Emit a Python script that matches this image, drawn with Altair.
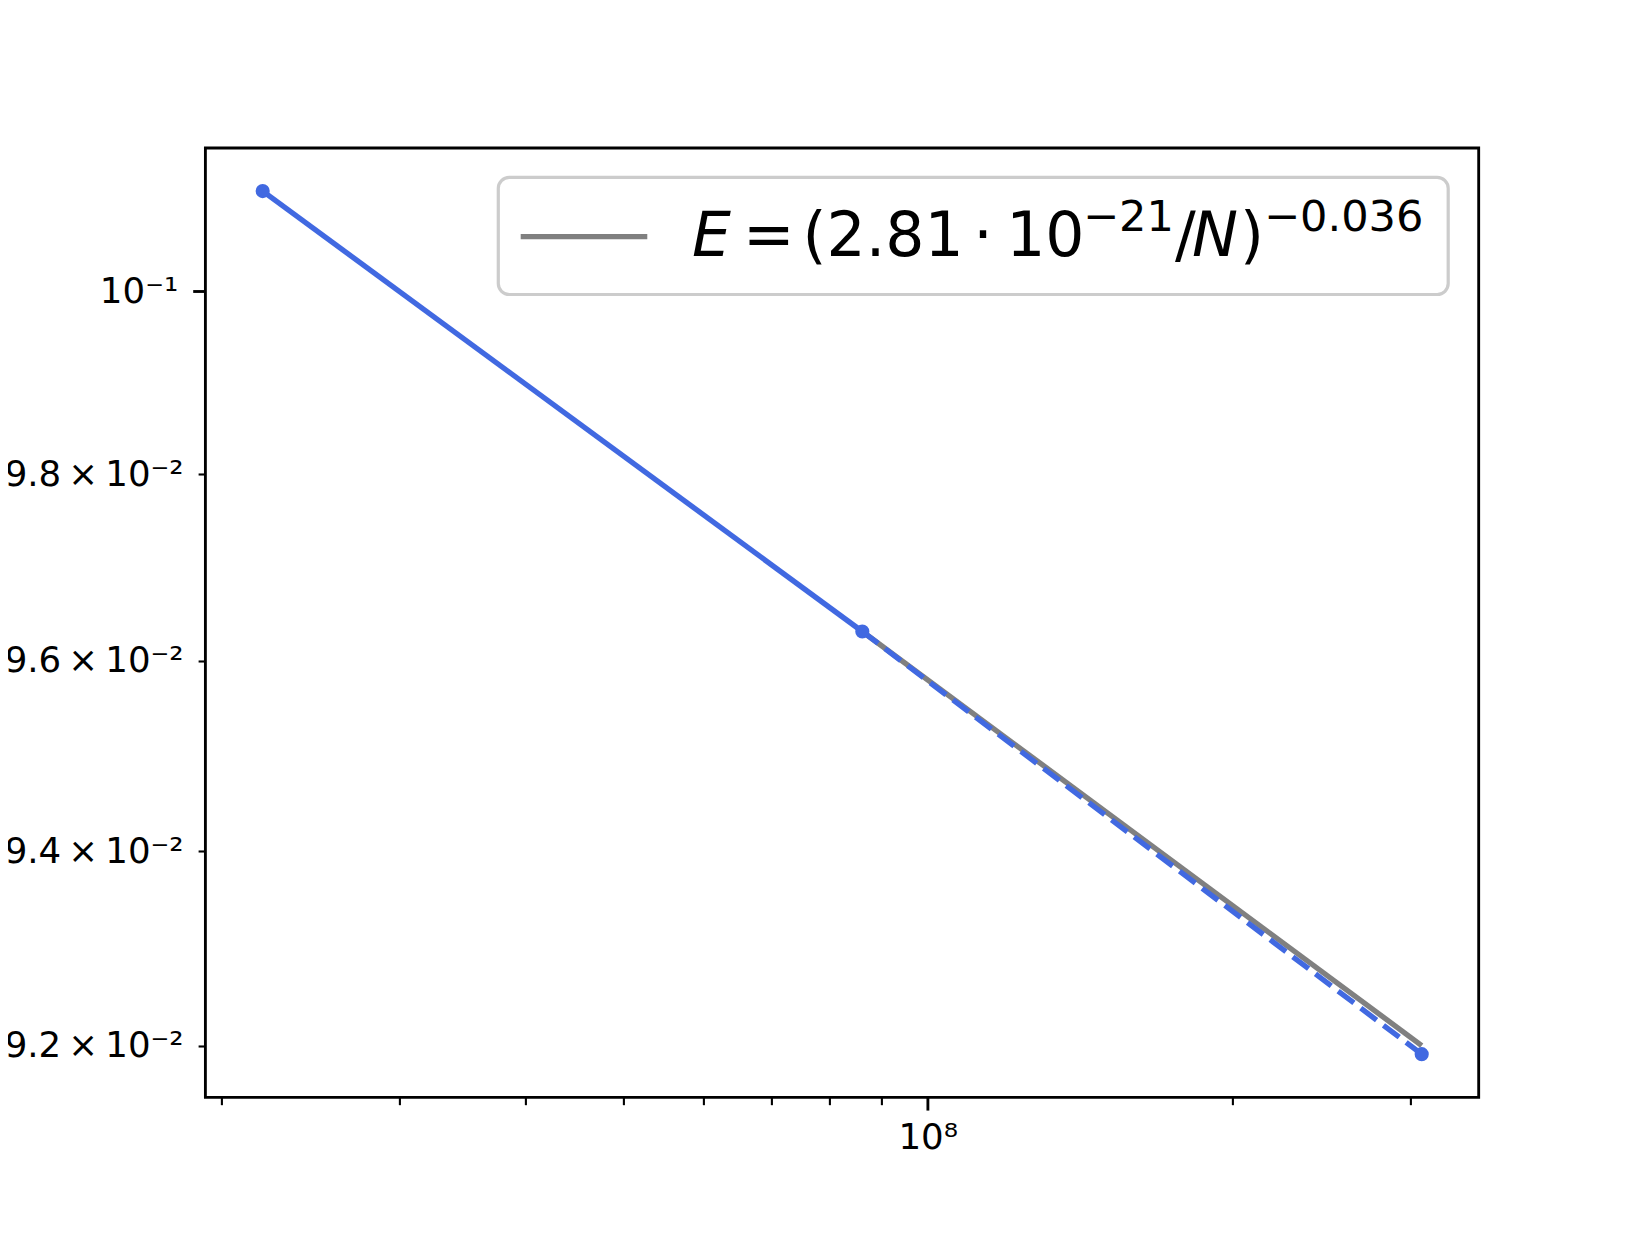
import altair as alt
import pandas as pd

# ---- data ----
n_params = [2.199e7, 8.617e7, 3.081e8]
loss = [0.101116, 0.096310, 0.091912]

fit_n = [8.617e7, 3.081e8]
fit_e = [0.09631, 0.09200]

x_tick_values = [2e7, 3e7, 4e7, 5e7, 6e7, 7e7, 8e7, 9e7, 1e8, 2e8, 3e8]
x_tick_labels = ["", "", "", "", "", "", "", "", "10⁸", "", ""]
x_major = [1e8]

y_tick_values = [0.092, 0.094, 0.096, 0.098, 0.1]
y_tick_labels = ["9.2\u2009×\u200910⁻²", "9.4\u2009×\u200910⁻²", "9.6\u2009×\u200910⁻²",
                 "9.8\u2009×\u200910⁻²", "10⁻¹"]
y_major = [0.1]

x_domain = [1.930e7, 3.508e8]
y_domain = [0.091474, 0.101599]

# legend label pieces: (text, x, y, size, style)
legend_pieces = [
    ("E", 486.6, 108, 61.6, "italic"),
    ("=", 537.6, 108, 61.6, "normal"),
    ("(2.81", 597.2, 108, 61.6, "normal"),
    ("·", 777.6, 108, 61.6, "normal"),
    ("10", 800.8, 108, 61.6, "normal"),
    ("−21", 877.6, 83, 43.1, "normal"),
    ("/", 969.6, 108, 61.6, "normal"),
    ("N", 986.6, 108, 61.6, "italic"),
    (")", 1034.6, 108, 61.6, "normal"),
    ("−0.036", 1058.6, 83, 43.1, "normal"),
]

BLUE = "#4169e1"
GRAY = "#808080"
FONT = "DejaVu Sans"


def label_expr(values, labels):
    expr = "''"
    for v, lab in zip(values, labels):
        expr = f"abs(datum.value / {v} - 1) < 1e-6 ? '{lab}' : ({expr})"
    return expr


def major_test(values):
    return " || ".join(f"abs(datum.value / {v} - 1) < 1e-6" for v in values)


df = pd.DataFrame({"N": n_params, "E": loss})
df_solid = df.iloc[:2]
df_dash = df.iloc[1:]
df_fit = pd.DataFrame({"N": fit_n, "E": fit_e})

xscale = alt.Scale(type="log", domain=x_domain, nice=False, zero=False)
yscale = alt.Scale(type="log", domain=y_domain, nice=False, zero=False)

common_axis = dict(
    labelFlush=False,
    labelOverlap=False,
    labelLimit=0,
    grid=False,
    domain=False,
    labelFont=FONT,
    labelFontSize=35.6,
    labelColor="black",
    tickColor="black",
    title=None,
)

xaxis = alt.Axis(
    values=x_tick_values,
    labelExpr=label_expr(x_tick_values, x_tick_labels),
    tickSize={"condition": {"test": major_test(x_major), "value": 12.7}, "value": 7.3},
    tickWidth={"condition": {"test": major_test(x_major), "value": 2.85}, "value": 2.1},
    labelPadding=10,
    **common_axis,
)
yaxis = alt.Axis(
    values=y_tick_values,
    labelExpr=label_expr(y_tick_values, y_tick_labels),
    tickSize={"condition": {"test": major_test(y_major), "value": 12.7}, "value": 7.3},
    tickWidth={"condition": {"test": major_test(y_major), "value": 2.85}, "value": 2.1},
    labelPadding=15,
    **common_axis,
)

X = alt.X("N:Q", scale=xscale, axis=xaxis)
Y = alt.Y("E:Q", scale=yscale, axis=yaxis)

fit_line = alt.Chart(df_fit).mark_line(color=GRAY, strokeWidth=5.35).encode(x=X, y=Y)
solid = alt.Chart(df_solid).mark_line(color=BLUE, strokeWidth=5.35).encode(x=X, y=Y)
dash = alt.Chart(df_dash).mark_line(color=BLUE, strokeWidth=5.35, strokeDash=[19.8, 8.6]).encode(x=X, y=Y)
points = alt.Chart(df).mark_circle(color=BLUE, size=200, opacity=1).encode(x=X, y=Y)

one = pd.DataFrame({"a": [0]})
legend_box = alt.Chart(one).mark_rect(
    fill="white", fillOpacity=0.8, stroke="#cccccc", strokeWidth=3.2, cornerRadius=11
).encode(
    x=alt.value(292.9), x2=alt.value(1242.8), y=alt.value(29.3), y2=alt.value(146.5)
)
legend_line = alt.Chart(one).mark_rule(color=GRAY, strokeWidth=5.35).encode(
    x=alt.value(315.3), x2=alt.value(441.9), y=alt.value(88.7)
)

legend_texts = []
for txt, px, py, sz, st in legend_pieces:
    legend_texts.append(
        alt.Chart(one).mark_text(
            text=txt, font=FONT, fontSize=sz, fontStyle=st, color="black",
            align="center" if txt == "·" else "left", baseline="alphabetic",
        ).encode(x=alt.value(px), y=alt.value(py))
    )

chart = alt.layer(
    fit_line, solid, dash, points, legend_box, legend_line, *legend_texts
).properties(
    width=1273.3,
    height=949.4,
    background="white",
    autosize=alt.AutoSizeParams(type="none"),
    padding={"left": 197.4, "top": 140, "right": 150, "bottom": 120},
).configure_view(
    stroke="black", strokeWidth=2.85
).configure_axis(
    grid=False,
    domain=False,
)

chart.save("out.html", embed_options={"renderer": "svg", "actions": False})
